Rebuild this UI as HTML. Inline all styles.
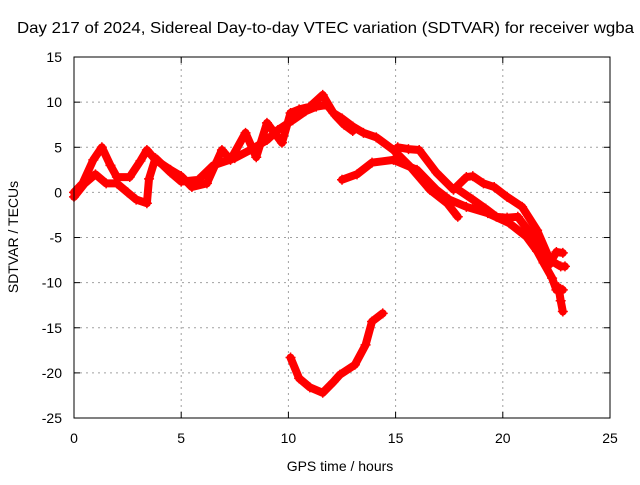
<!DOCTYPE html>
<html><head><meta charset="utf-8"><style>
body{margin:0;background:#fff}
svg text{font-family:"Liberation Sans",sans-serif;font-size:14px;fill:#000}
</style></head><body>
<svg id="c" width="640" height="480" xmlns="http://www.w3.org/2000/svg">
<rect width="640" height="480" fill="#fff"/>
<text x="17" y="33" style="font-size:16px" textLength="617" lengthAdjust="spacingAndGlyphs">Day 217 of 2024, Sidereal Day-to-day VTEC variation (SDTVAR) for receiver wgba</text>
<g id="grid"></g>
<g id="axes"></g>
<g id="series"></g>
<rect x="74" y="57" width="536" height="361" fill="none" stroke="#000" stroke-width="1"/>
<text x="340" y="471" text-anchor="middle">GPS time / hours</text>
<text transform="translate(18,237) rotate(-90)" text-anchor="middle">SDTVAR / TECUs</text>
</svg>
<script>
const xTicks=[0,5,10,15,20,25];
const yTicks=[15,10,5,0,-5,-10,-15,-20,-25];
const trackA_h=[0,0.4,0.9,1.3,1.7,2,2.6,3.1,3.4,3.8,4.5,5,5.5,6.2,6.9,7.3,8,8.5,9,9.7,10.1,10.5,11,11.6,12.1,12.5,13,13.5,14.1,14.9,15.7,16.6,17.4,17.9];
const trackA_v=[0,1,3.6,5,3,1.7,1.7,3.5,4.7,3.6,2.5,1.8,0.6,1,4.7,3.6,6.6,3.9,7.7,5.5,8.8,9.2,9.5,10.8,8.8,8.2,7.3,6.6,6.1,4.7,2.8,0.3,-1.2,-2.7];
const trackB_h=[0,0.5,1,1.5,2,2.5,2.9,3.4,3.5,3.8,4.5,5,5.8,6.5,7.5,8.3,9,9.5,10.2,10.8,11.3,11.8,12.2,12.6,13];
const trackB_v=[-0.5,1,2,1,1,0,-0.8,-1.2,1.5,3.8,2.2,1.2,1.4,3,3.8,4.8,5.8,6.9,8,9,9.5,9.7,8.5,7.5,6.8];
const trackC_h=[12.5,13.2,13.9,14.9,16,16.9,17.5,18.3,19.3,20.3,21.1,21.6,21.9,22.3,22.5,22.8];
const trackC_v=[1.4,2,3.3,3.6,2.5,0.3,-0.8,-1.6,-2.3,-3.4,-4.9,-6.5,-7.8,-9.5,-10.8,-10.8];
const trackD_h=[15.1,15.6,16.1,16.9,17.7,18.3,18.6,19.1,19.6,20.2,20.9,21.6,22.2,22.7,22.9];
const trackD_v=[5,4.8,4.7,2.2,0.3,1.7,1.8,1,0.6,-0.5,-1.6,-4.2,-7.5,-8.2,-8.2];
const trackE_h=[17.8,18.6,19.2,19.7,20.2,20.7,21.4,22.1,22.5,22.8];
const trackE_v=[0.5,-0.8,-1.8,-2.7,-2.8,-2.7,-4.9,-8.2,-6.6,-6.7];
const trackF_h=[10.1,10.5,11,11.6,12.1,12.4,13.1,13.6,13.9,14.4];
const trackF_v=[-18.3,-20.6,-21.6,-22.2,-21,-20.2,-19.1,-16.9,-14.3,-13.4];
const trackG_h=[22.6,22.7,22.8];
const trackG_v=[-10.5,-12,-13.2];
const X=h=>74+h*21.44, Y=v=>192.4-v*9.025;
const NS='http://www.w3.org/2000/svg';
function mk(t,p,a){const e=document.createElementNS(NS,t);for(const k in a)e.setAttribute(k,a[k]);p.appendChild(e);return e;}
const grid=document.getElementById('grid'),axes=document.getElementById('axes'),ser=document.getElementById('series');
xTicks.forEach(t=>{const x=X(t);
 if(t>0&&t<25){const l=mk('line',grid,{x1:x,x2:x,y1:57,y2:418,stroke:'#a0a0a0','stroke-dasharray':'2,4'});
 
 }
 mk('line',axes,{x1:x,x2:x,y1:418,y2:412,stroke:'#000'});mk('line',axes,{x1:x,x2:x,y1:57,y2:63,stroke:'#000'});
 const tx=mk('text',axes,{x:x,y:443,'text-anchor':'middle'});tx.textContent=t;
 
 });
yTicks.forEach(t=>{const y=Y(t);
 if(t>-25&&t<15){const l=mk('line',grid,{x1:74,x2:610,y1:y,y2:y,stroke:'#a0a0a0','stroke-dasharray':'2,4'});
 
 }
 mk('line',axes,{x1:74,x2:80,y1:y,y2:y,stroke:'#000'});mk('line',axes,{x1:610,x2:604,y1:y,y2:y,stroke:'#000'});
 const tx=mk('text',axes,{x:62,y:y+5,'text-anchor':'end'});tx.textContent=t;
 
 });
const tracks=[[trackA_h,trackA_v],[trackB_h,trackB_v],[trackC_h,trackC_v],[trackD_h,trackD_v],[trackE_h,trackE_v],[trackF_h,trackF_v],[trackG_h,trackG_v]];
tracks.forEach((tr,i)=>{const pts=tr[0].map((h,j)=>X(h).toFixed(1)+','+Y(tr[1][j]).toFixed(1)).join(' ');
 const pl=mk('polyline',ser,{points:pts,fill:'none',stroke:'#ff0000','stroke-width':8,'stroke-linejoin':'round','stroke-linecap':'round'});
 
 
 tr[0].forEach((h,j)=>{const x=X(h),y=Y(tr[1][j]);
  const p=mk('path',ser,{d:`M${x-5},${y}H${x+5}M${x},${y-5}V${y+5}`,stroke:'#ff0000','stroke-width':1.5});
  
  });});
</script>
</body></html>
